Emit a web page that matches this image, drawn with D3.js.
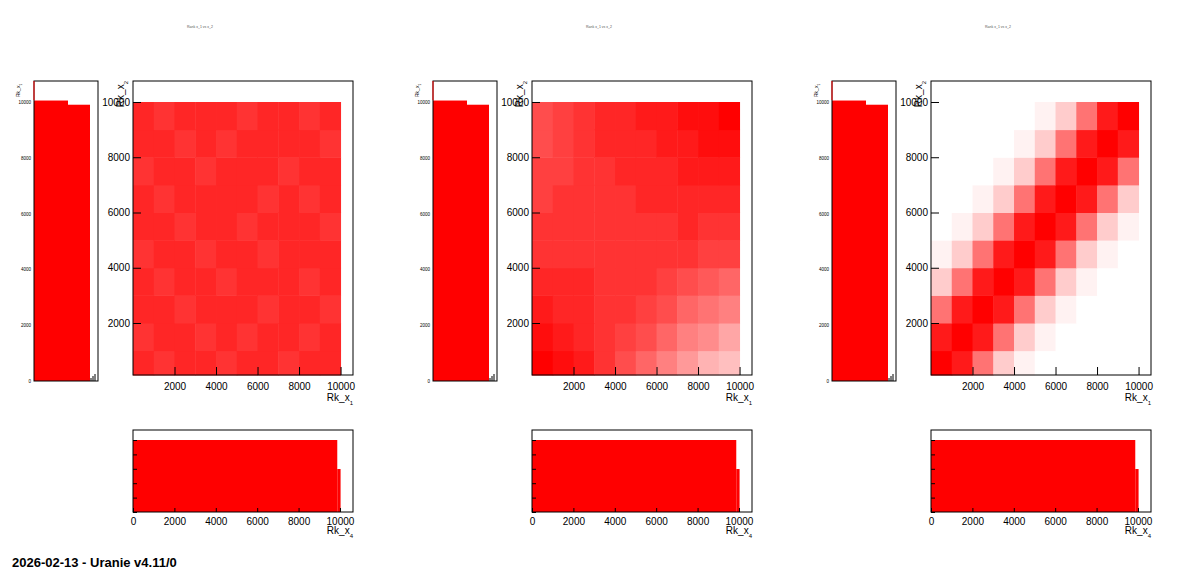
<!DOCTYPE html>
<html><head><meta charset="utf-8">
<script src="https://cdn.jsdelivr.net/npm/d3@7"></script>
<style>body{margin:0;background:#fff}svg{font-family:"Liberation Sans",Arial,sans-serif}</style>
</head><body>
<script>
// scatter density grids, rows from Rk_x2 = 0 (first) up to 10000, cols along Rk_x1
var gridUniform = [
  [.85,.8,.85,.85,.8,.85,.85,.8,.85,.85],
  [.8,.85,.85,.8,.85,.8,.85,.85,.8,.85],
  [.85,.85,.8,.85,.85,.85,.8,.85,.85,.8],
  [.85,.8,.85,.85,.8,.85,.85,.85,.8,.85],
  [.8,.85,.85,.8,.85,.85,.8,.85,.85,.85],
  [.85,.85,.8,.85,.85,.8,.85,.85,.85,.8],
  [.85,.8,.85,.85,.85,.85,.8,.85,.8,.85],
  [.8,.85,.85,.8,.85,.85,.85,.8,.85,.85],
  [.85,.85,.8,.85,.8,.85,.85,.85,.85,.8],
  [.85,.8,.85,.85,.85,.8,.85,.85,.8,.85]
];
var gridMedium = [
  [1,.95,.9,.8,.7,.6,.5,.4,.3,.25],
  [.95,.9,.85,.8,.75,.7,.6,.5,.45,.35],
  [.9,.85,.85,.8,.8,.75,.7,.6,.55,.5],
  [.85,.85,.85,.8,.8,.8,.75,.7,.65,.6],
  [.8,.8,.8,.8,.8,.8,.8,.8,.75,.75],
  [.8,.8,.8,.8,.8,.8,.8,.85,.8,.8],
  [.75,.8,.8,.8,.8,.85,.85,.85,.85,.85],
  [.75,.75,.8,.8,.85,.85,.85,.9,.9,.9],
  [.7,.75,.8,.85,.85,.85,.9,.9,.95,.95],
  [.7,.75,.8,.85,.85,.9,.9,.95,.95,1]
];
var gridStrong = [
  [1,.9,.55,.2,.05,0,0,0,0,0],
  [.9,1,.9,.55,.2,.05,0,0,0,0],
  [.55,.9,1,.9,.55,.2,.05,0,0,0],
  [.2,.55,.9,1,.9,.55,.2,.05,0,0],
  [.05,.2,.55,.9,1,.9,.55,.2,.05,0],
  [0,.05,.2,.55,.9,1,.9,.55,.2,.05],
  [0,0,.05,.2,.55,.9,1,.9,.55,.2],
  [0,0,0,.05,.2,.55,.9,1,.9,.55],
  [0,0,0,0,.05,.2,.55,.9,1,.9],
  [0,0,0,0,0,.05,.2,.55,.9,1]
];
var grids = [gridUniform, gridMedium, gridStrong];
var gridEdges = [0,1000,2000,3000,4000,5000,6000,7000,8000,9000,10000];

var sideHistValues = [10050, 9900];   // left histogram (Rk_x1 marginal)
var sideHistWidths = [34, 22];
var bottomHistEdges = [0, 9870, 10030];
var bottomHistValues = [10000, 5970];

var scatterTicks = [2000, 4000, 6000, 8000, 10000];
var sideTicks = [0, 2000, 4000, 6000, 8000, 10000];
var bottomTicks = [0, 2000, 4000, 6000, 8000, 10000];
var footer = "2026-02-13 - Uranie v4.11/0";
var panelOffsets = [0, 399, 798];

var svg = d3.select('body').append('svg').attr('width', 1196).attr('height', 572);
var color = d3.interpolateRgb('#ffffff', '#ff0000');
var fmt = d3.format('d');

function sub(g, x, y, main, s, size, anchor, rot) {
  var t = g.append('text').attr('x', x).attr('y', y).attr('font-size', size)
    .attr('text-anchor', anchor || 'end');
  if (rot) t.attr('transform', 'rotate(-90,' + x + ',' + y + ')');
  t.append('tspan').text(main);
  t.append('tspan').attr('font-size', size * 0.6).attr('dy', size * 0.35).text(s);
}

panelOffsets.forEach(function(off, p) {
  var g = svg.append('g').attr('transform', 'translate(' + off + ',0)');

  g.append('text').attr('x', 200).attr('y', 28).attr('font-size', 3.5)
    .attr('text-anchor', 'middle').attr('fill', '#555').text('Rank x_1 vs x_2');

  // scatter
  var x = d3.scaleLinear().domain([0, 10600]).range([133, 353]);
  var y = d3.scaleLinear().domain([118, 10760]).range([375, 81]);
  var cells = [];
  grids[p].forEach(function(row, r) {
    row.forEach(function(d, c) { cells.push({r: r, c: c, d: d}); });
  });
  g.selectAll('rect.cell').data(cells).enter().append('rect')
    .attr('x', function(d) { return x(gridEdges[d.c]); })
    .attr('y', function(d) { return y(Math.min(gridEdges[d.r + 1], 10000)); })
    .attr('width', function(d) { return x(gridEdges[d.c + 1]) - x(gridEdges[d.c]) + 0.5; })
    .attr('height', function(d) { return y(Math.max(gridEdges[d.r], 118)) - y(gridEdges[d.r + 1]) + 0.5; })
    .attr('fill', function(d) { return color(d.d); });
  g.append('rect').attr('x', 133).attr('y', 81).attr('width', 220).attr('height', 294)
    .attr('fill', 'none').attr('stroke', '#000');
  g.append('g').attr('transform', 'translate(0,375)')
    .call(d3.axisBottom(x).tickValues(scatterTicks).tickFormat(fmt).tickSize(-8).tickSizeOuter(0).tickPadding(8))
    .call(function(a) { a.select('.domain').remove(); a.selectAll('text').attr('font-size', 10); });
  g.append('g').attr('transform', 'translate(133,0)')
    .call(d3.axisLeft(y).tickValues(scatterTicks).tickFormat(fmt).tickSize(-8).tickSizeOuter(0).tickPadding(3))
    .call(function(a) { a.select('.domain').remove(); a.selectAll('text').attr('font-size', 10); });
  sub(g, 353, 401, 'Rk_x', '1', 10);
  sub(g, 124, 81, 'Rk_x', '2', 10, 'end', true);

  // left marginal histogram
  var sy = d3.scaleLinear().domain([0, 10750]).range([381, 81]);
  var bx = 34;
  sideHistValues.forEach(function(v, i) {
    g.append('rect').attr('x', bx).attr('y', sy(v)).attr('width', sideHistWidths[i])
      .attr('height', 381 - sy(v)).attr('fill', '#ff0000');
    bx += sideHistWidths[i];
  });
  g.append('rect').attr('x', 34).attr('y', 81).attr('width', 64).attr('height', 300)
    .attr('fill', 'none').attr('stroke', '#000');
  g.append('line').attr('x1', 34).attr('x2', 34).attr('y1', 81).attr('y2', 100).attr('stroke', '#ff0000');
  g.append('g').attr('transform', 'translate(34,0)')
    .call(d3.axisLeft(sy).tickValues(sideTicks).tickFormat(fmt).tickSize(0).tickPadding(3))
    .call(function(a) { a.select('.domain').remove(); a.selectAll('text').attr('font-size', 4.5); });
  [91, 93, 95].forEach(function(tx, i) {
    g.append('line').attr('x1', tx).attr('x2', tx).attr('y1', 381).attr('y2', 381 - 3 - i * 2).attr('stroke', '#000');
  });
  sub(g, 20, 97, 'Rk_x', '1', 5, 'start', true);

  // bottom marginal histogram
  var hx = d3.scaleLinear().domain([0, 10630]).range([133, 353]);
  var hy = d3.scaleLinear().domain([0, 11390]).range([512, 430]);
  bottomHistValues.forEach(function(v, i) {
    g.append('rect').attr('x', hx(bottomHistEdges[i])).attr('y', hy(v))
      .attr('width', hx(bottomHistEdges[i + 1]) - hx(bottomHistEdges[i]))
      .attr('height', 512 - hy(v)).attr('fill', '#ff0000');
  });
  g.append('rect').attr('x', 133).attr('y', 430).attr('width', 220).attr('height', 82)
    .attr('fill', 'none').attr('stroke', '#000');
  g.append('g').attr('transform', 'translate(0,512)')
    .call(d3.axisBottom(hx).tickValues(bottomTicks).tickFormat(fmt).tickSize(-4).tickSizeOuter(0).tickPadding(6))
    .call(function(a) { a.select('.domain').remove(); a.selectAll('text').attr('font-size', 10); });
  g.append('g').attr('transform', 'translate(133,0)')
    .call(d3.axisLeft(hy).ticks(8).tickSize(-4).tickSizeOuter(0).tickFormat(''))
    .call(function(a) { a.select('.domain').remove(); });
  sub(g, 353, 534, 'Rk_x', '4', 10);
});

svg.append('text').attr('x', 12).attr('y', 567).attr('font-size', 13)
  .attr('font-weight', 'bold').text(footer);
</script>
</body></html>
